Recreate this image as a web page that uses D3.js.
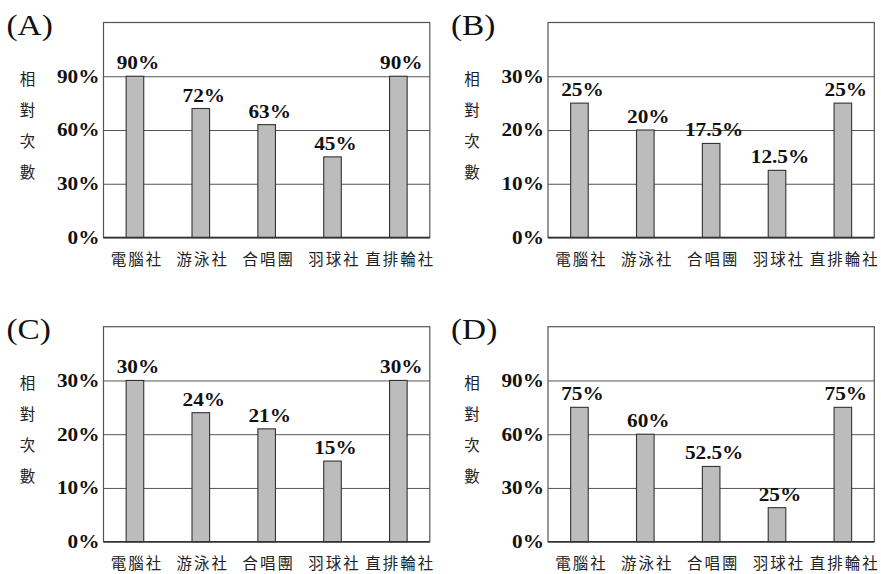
<!DOCTYPE html>
<html>
<head>
<meta charset="utf-8">
<script src="https://cdn.jsdelivr.net/npm/d3@7"></script>
<style>
  html, body { margin: 0; padding: 0; background: #fff; }
  svg { display: block; }
  .num { font-family: "Liberation Serif", "Times New Roman", serif; font-weight: bold; font-size: 18.5px; fill: #111; }
  .title { font-family: "Liberation Serif", "Times New Roman", serif; font-size: 29px; fill: #111; }
  .cjk { font-family: "Noto Sans CJK TC", "Noto Sans CJK SC", sans-serif; font-size: 15.5px; fill: #222; }
</style>
</head>
<body>
<svg id="chart" width="881" height="574"></svg>
<script>
// ---- data ----
const categories = ["電腦社", "游泳社", "合唱團", "羽球社", "直排輪社"];
const yTitle = ["相", "對", "次", "數"];
const panelNames = ["(A)", "(B)", "(C)", "(D)"];

const valuesA = [90, 72, 63, 45, 90];
const labelsA = ["90%", "72%", "63%", "45%", "90%"];
const ticksA = [0, 30, 60, 90];
const tickLabelsA = ["0%", "30%", "60%", "90%"];
const maxA = 120;

const valuesB = [25, 20, 17.5, 12.5, 25];
const labelsB = ["25%", "20%", "17.5%", "12.5%", "25%"];
const ticksB = [0, 10, 20, 30];
const tickLabelsB = ["0%", "10%", "20%", "30%"];
const maxB = 40;

const valuesC = [30, 24, 21, 15, 30];
const labelsC = ["30%", "24%", "21%", "15%", "30%"];
const ticksC = [0, 10, 20, 30];
const tickLabelsC = ["0%", "10%", "20%", "30%"];
const maxC = 40;

const valuesD = [75, 60, 42, 19, 75];
const labelsD = ["75%", "60%", "52.5%", "25%", "75%"];
const ticksD = [0, 30, 60, 90];
const tickLabelsD = ["0%", "30%", "60%", "90%"];
const maxD = 120;

const panels = [
  { name: panelNames[0], values: valuesA, labels: labelsA, ticks: ticksA, tickLabels: tickLabelsA, max: maxA, col: 0, row: 0 },
  { name: panelNames[1], values: valuesB, labels: labelsB, ticks: ticksB, tickLabels: tickLabelsB, max: maxB, col: 1, row: 0 },
  { name: panelNames[2], values: valuesC, labels: labelsC, ticks: ticksC, tickLabels: tickLabelsC, max: maxC, col: 0, row: 1 },
  { name: panelNames[3], values: valuesD, labels: labelsD, ticks: ticksD, tickLabels: tickLabelsD, max: maxD, col: 1, row: 1 }
];

// ---- layout ----
const frameLeft = [103.5, 548];
const frameTop = [22.5, 326.7];
const frameW = 326.3;
const frameH = 215;
const stretch = 1.15;

const svg = d3.select("#chart");

function stext(g, x, y, str, cls, anchor) {
  return g.append("text")
    .attr("class", cls)
    .attr("text-anchor", anchor || "start")
    .attr("transform", `translate(${x},${y}) scale(${stretch},1)`)
    .text(str);
}

panels.forEach(p => {
  const L = frameLeft[p.col], T = frameTop[p.row];
  const g = svg.append("g").attr("transform", `translate(${L},${T})`);

  const x = d3.scaleBand()
    .domain(categories)
    .range([0, frameW])
    .paddingInner(0.733)
    .paddingOuter(0.344);
  const y = d3.scaleLinear().domain([0, p.max]).range([frameH, 0]);

  // gridlines via axis
  const grid = g.append("g")
    .call(d3.axisLeft(y).tickValues(p.ticks).tickSize(-frameW).tickFormat(""));
  grid.select(".domain").remove();
  grid.selectAll(".tick line").attr("stroke", "#555").attr("stroke-width", 1);

  // frame
  g.append("rect")
    .attr("x", 0).attr("y", 0).attr("width", frameW).attr("height", frameH)
    .attr("fill", "none").attr("stroke", "#555").attr("stroke-width", 1.2);

  // tick labels
  p.ticks.forEach((t, i) => {
    stext(g, -4, y(t) + 6.3, p.tickLabels[i], "num", "end");
  });

  // bars
  g.selectAll("rect.bar")
    .data(p.values)
    .enter().append("rect")
    .attr("class", "bar")
    .attr("x", (d, i) => x(categories[i]))
    .attr("y", d => y(d))
    .attr("width", x.bandwidth())
    .attr("height", d => frameH - y(d))
    .attr("fill", "#bcbcbc")
    .attr("stroke", "#333")
    .attr("stroke-width", 1.1);

  // bottom axis line drawn over bars
  g.append("line").attr("x1", 0).attr("x2", frameW).attr("y1", frameH).attr("y2", frameH)
    .attr("stroke", "#333").attr("stroke-width", 1.3);

  // value labels
  p.values.forEach((v, i) => {
    stext(g, x(categories[i]) + x.bandwidth() / 2 + 3, y(v) - 7, p.labels[i], "num", "middle");
  });

  // category labels
  categories.forEach(c => {
    g.append("text")
      .attr("class", "cjk")
      .attr("text-anchor", "middle")
      .attr("letter-spacing", "2px")
      .attr("x", x(c) + x.bandwidth() / 2 + 2)
      .attr("y", frameH + 27)
      .text(c);
  });

  // vertical y title
  yTitle.forEach((ch, i) => {
    g.append("text")
      .attr("class", "cjk")
      .attr("text-anchor", "middle")
      .attr("x", -76)
      .attr("y", 62 + i * 31)
      .text(ch);
  });

  // panel title
  stext(g, -97, 12, p.name, "title", "start");
});
</script>
</body>
</html>
